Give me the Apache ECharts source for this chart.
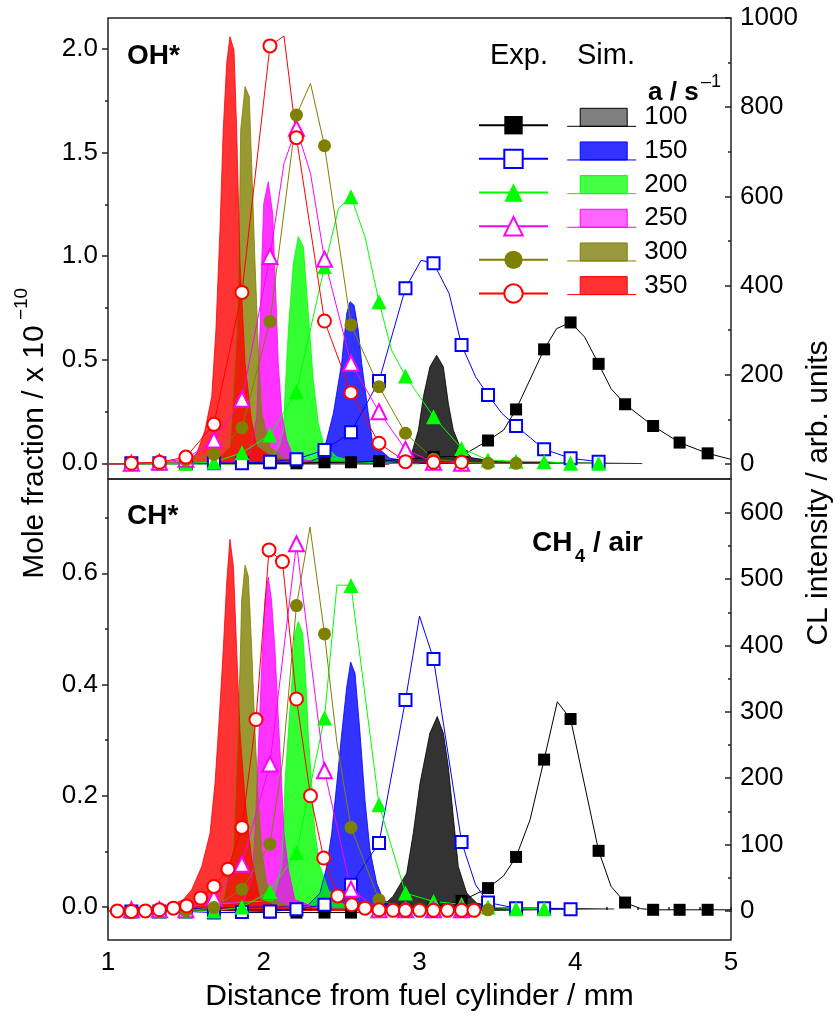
<!DOCTYPE html>
<html>
<head>
<meta charset="utf-8">
<title>OH* / CH* profiles</title>
<script src="https://cdn.jsdelivr.net/npm/echarts@6/dist/echarts.min.js"></script>
<style>
html, body { margin: 0; padding: 0; background: #fff; }
#chart { width: 835px; height: 1019px; }
</style>
</head>
<body>
<div id="chart"></div>
<script>
// strain rates, a / s^-1
var rates = ['100', '150', '200', '250', '300', '350'];

// ---- OH* panel, experiment (mole fraction x 1e-10) : markers + line bends
var ohExp100 = [[1.68,0],[1.86,0],[2.04,0],[2.21,0],[2.39,0.005],[2.56,0.005],[2.74,0.01],[2.91,0.02],[3.09,0.03],[3.27,0.035],[3.44,0.11],[3.62,0.26],[3.80,0.55],[3.97,0.68],[4.15,0.48],[4.32,0.285],[4.50,0.18],[4.67,0.10],[4.85,0.048]];
var ohBend100 = [[3.54,0.16],[3.88,0.65],[4.06,0.61],[4.23,0.36],[5.0,0.019]];
var ohExp150 = [[1.15,0],[1.33,0],[1.50,0],[1.68,0],[1.86,0],[2.04,0.008],[2.21,0.02],[2.39,0.064],[2.56,0.15],[2.74,0.397],[2.91,0.845],[3.09,0.966],[3.27,0.571],[3.44,0.33],[3.62,0.18],[3.80,0.068],[3.97,0.024],[4.15,0.008]];
var ohBend150 = [[3.01,0.98],[3.19,0.82],[3.36,0.418],[3.53,0.24]];
var ohExp200 = [[1.15,0],[1.33,0],[1.50,0],[1.68,0.005],[1.86,0.051],[2.04,0.137],[2.21,0.346],[2.39,0.949],[2.56,1.287],[2.74,0.78],[2.91,0.421],[3.09,0.225],[3.27,0.072],[3.44,0.016],[3.62,0.01],[3.80,0.008],[3.97,0],[4.15,0]];
var ohBend200 = [[2.48,1.23],[2.65,1.094],[2.82,0.547]];
var ohExp250 = [[1.15,0],[1.33,0.005],[1.50,0.02],[1.68,0.112],[1.86,0.309],[2.04,0.998],[2.21,1.617],[2.39,0.985],[2.56,0.483],[2.74,0.249],[2.91,0.067],[3.09,0.005],[3.27,0]];
var ohBend250 = [[2.13,1.448],[2.30,1.40]];
var ohExp300 = [[1.15,0],[1.33,0],[1.50,0.015],[1.68,0.043],[1.86,0.172],[2.04,0.684],[2.21,1.681],[2.39,1.533],[2.56,0.668],[2.74,0.37],[2.91,0.145],[3.09,0.02],[3.27,0.005],[3.44,0],[3.62,0]];
var ohBend300 = [[2.30,1.834]];
var ohExp350 = [[1.15,0],[1.33,0.005],[1.50,0.03],[1.68,0.188],[1.86,0.825],[2.04,2.015],[2.21,1.572],[2.39,0.687],[2.56,0.341],[2.74,0.097],[2.91,0.008],[3.09,0.005],[3.27,0.005]];
var ohBend350 = [[2.13,2.063]];

// ---- OH* panel, simulation (CL intensity)
var ohSim100 = [[1.0,0],[2.80,0],[2.90,8],[2.95,24],[2.993,76],[3.025,151],[3.067,218],[3.11,244],[3.153,218],[3.185,136],[3.217,76],[3.26,39],[3.335,14],[3.506,5],[4.43,1]];
var ohSim150 = [[1.0,0],[2.28,4],[2.372,16],[2.404,54],[2.447,114],[2.50,226],[2.533,338],[2.554,364],[2.58,356],[2.607,300],[2.629,226],[2.671,114],[2.70,46],[2.81,13],[2.97,4],[3.3,0]];
var ohSim200 = [[1.0,0],[1.94,0],[2.04,9],[2.10,40],[2.126,76],[2.136,151],[2.158,300],[2.19,450],[2.222,510],[2.254,487],[2.286,338],[2.318,188],[2.35,91],[2.383,46],[2.469,16],[2.6,4],[3.0,0]];
var ohSim250 = [[1.0,0],[1.80,3],[1.912,24],[1.955,106],[1.976,300],[1.987,450],[2.0,584],[2.029,633],[2.057,562],[2.078,375],[2.093,226],[2.115,114],[2.147,54],[2.19,16],[2.33,4],[2.8,0]];
var ohSim300 = [[1.0,0],[1.676,3],[1.783,39],[1.826,293],[1.843,525],[1.852,749],[1.88,846],[1.907,824],[1.922,674],[1.944,450],[1.965,263],[1.987,114],[2.04,39],[2.126,13],[2.275,3],[2.8,0]];
var ohSim350 = [[1.0,0],[1.50,3],[1.57,24],[1.623,76],[1.666,151],[1.693,300],[1.719,525],[1.74,749],[1.762,898],[1.783,958],[1.809,928],[1.826,749],[1.848,450],[1.88,226],[1.92,100],[1.955,39],[2.06,14],[2.23,3],[2.8,0]];

// ---- CH* panel, experiment
var chExp100 = [[1.68,-0.01],[1.86,-0.01],[2.04,-0.01],[2.21,-0.01],[2.39,-0.01],[2.56,-0.01],[2.74,-0.008],[2.91,-0.005],[3.09,0],[3.27,0.011],[3.44,0.034],[3.62,0.09],[3.80,0.265],[3.97,0.338],[4.15,0.101],[4.32,0.008],[4.50,-0.005],[4.67,-0.005],[4.85,-0.005]];
var chBend100 = [[3.54,0.056],[3.71,0.157],[3.885,0.369],[4.23,0.037],[4.42,-0.003],[5.0,-0.005]];
var chExp150 = [[1.15,-0.008],[1.33,-0.008],[1.50,-0.008],[1.68,-0.01],[1.86,-0.009],[2.04,-0.008],[2.21,-0.004],[2.39,0.004],[2.56,0.04],[2.74,0.115],[2.91,0.372],[3.09,0.446],[3.27,0.117],[3.44,0.008],[3.62,-0.002],[3.80,-0.002],[3.97,-0.004]];
var chBend150 = [[3.00,0.523],[3.36,0.04]];
var chExp200 = [[1.15,-0.007],[1.33,-0.007],[1.50,-0.007],[1.68,-0.007],[1.86,0],[2.04,0.028],[2.21,0.098],[2.39,0.34],[2.56,0.578],[2.74,0.184],[2.91,0.025],[3.09,0.01],[3.27,0.005],[3.44,0],[3.62,-0.003],[3.80,-0.003]];
var chBend200 = [[2.47,0.579]];
var chExp250 = [[1.15,-0.005],[1.33,-0.005],[1.50,-0.005],[1.68,0.016],[1.86,0.077],[2.04,0.257],[2.21,0.653],[2.39,0.245],[2.56,0.032],[2.74,-0.005],[2.91,-0.005],[3.09,-0.005],[3.27,-0.005]];
var chBend250 = [];
var chExp300 = [[1.50,-0.007],[1.68,-0.001],[1.86,0.032],[2.04,0.113],[2.21,0.542],[2.39,0.491],[2.56,0.143],[2.74,0.013],[2.91,-0.003],[3.09,-0.005],[3.27,-0.005],[3.44,-0.005]];
var chBend300 = [[2.12,0.26],[2.297,0.683],[2.47,0.295]];
var chExp350 = [[1.06,-0.007],[1.15,-0.008],[1.24,-0.007],[1.33,-0.005],[1.42,-0.002],[1.505,0.002],[1.595,0.016],[1.68,0.037],[1.77,0.068],[1.86,0.143],[1.95,0.337],[2.034,0.642],[2.12,0.621],[2.21,0.374],[2.30,0.2],[2.385,0.088],[2.475,0.02],[2.565,0.004],[2.65,-0.002],[2.74,-0.005],[2.83,-0.006],[2.91,-0.006],[3.00,-0.006],[3.09,-0.006],[3.18,-0.006],[3.27,-0.006],[3.35,-0.006]];
var chBend350 = [];

// ---- CH* panel, simulation
var chSim100 = [[1.0,0],[2.70,3],[2.77,9],[2.83,22],[2.918,57],[2.96,117],[3.003,192],[3.067,268],[3.114,293],[3.153,268],[3.185,217],[3.217,142],[3.249,67],[3.303,27],[3.367,12],[3.5,5],[4.25,3]];
var chSim150 = [[1.0,0],[2.28,8],[2.361,27],[2.404,67],[2.436,117],[2.469,192],[2.501,268],[2.533,338],[2.558,375],[2.586,358],[2.618,268],[2.65,167],[2.682,92],[2.725,42],[2.767,17],[2.85,5],[3.3,0]];
var chSim200 = [[1.0,0],[2.06,16],[2.115,67],[2.126,117],[2.136,192],[2.158,268],[2.18,343],[2.2,418],[2.222,436],[2.25,418],[2.271,343],[2.286,268],[2.307,192],[2.329,117],[2.361,67],[2.414,32],[2.49,12],[2.6,4],[3.0,0]];
var chSim250 = [[1.0,0],[1.87,14],[1.923,47],[1.945,122],[1.965,243],[1.987,368],[2.008,468],[2.029,503],[2.05,468],[2.072,393],[2.093,293],[2.115,192],[2.13,117],[2.16,60],[2.2,17],[2.35,4],[2.8,0]];
var chSim300 = [[1.0,0],[1.74,15],[1.805,97],[1.83,250],[1.848,368],[1.858,468],[1.88,521],[1.901,504],[1.923,393],[1.944,268],[1.965,167],[1.987,92],[2.019,42],[2.08,15],[2.19,5],[2.8,0]];
var chSim350 = [[1.0,0],[1.377,6],[1.483,17],[1.537,32],[1.602,67],[1.655,117],[1.687,192],[1.715,293],[1.74,393],[1.762,494],[1.783,560],[1.805,519],[1.826,393],[1.848,268],[1.88,167],[1.923,77],[1.976,17],[2.1,6],[2.8,0]];

// ---- tick values
var ohTicks = [0, 0.5, 1, 1.5, 2];
var ohMinor = [0.25, 0.75, 1.25, 1.75];
var ohClTicks = [0, 200, 400, 600, 800, 1000];
var ohClMinor = [100, 300, 500, 700, 900];
var chTicks = [0, 0.2, 0.4, 0.6];
var chMinor = [0.1, 0.3, 0.5, 0.7];
var chClTicks = [0, 100, 200, 300, 400, 500, 600];
var chClMinor = [50, 150, 250, 350, 450, 550];

// styles
var colors = ['#000000', '#0000ff', '#00ff00', '#ff00ff', '#808000', '#ff0000'];
var symbols = ['rect', 'emptyRect', 'triangle', 'emptyTriangle', 'circle', 'emptyCircle'];
var symbolSizes = [12, 12, 15, 15, 13, 13];
var legendFills = ['#808080', '#3333ff', '#44ff44', '#ff66ff', '#999940', '#ff3333'];
var FONT = '"Liberation Sans", Arial, Helvetica, sans-serif';
var INK = '#222';

var ohExp = [ohExp100, ohExp150, ohExp200, ohExp250, ohExp300, ohExp350];
var ohBend = [ohBend100, ohBend150, ohBend200, ohBend250, ohBend300, ohBend350];
var ohSim = [ohSim100, ohSim150, ohSim200, ohSim250, ohSim300, ohSim350];
var chExp = [chExp100, chExp150, chExp200, chExp250, chExp300, chExp350];
var chBend = [chBend100, chBend150, chBend200, chBend250, chBend300, chBend350];
var chSim = [chSim100, chSim150, chSim200, chSim250, chSim300, chSim350];

function expData(markers, bends) {
  var pts = markers.map(function(p) { return { value: p }; })
    .concat(bends.map(function(p) { return { value: p, symbol: 'none' }; }));
  pts.sort(function(a, b) { return a.value[0] - b.value[0]; });
  return pts;
}

function simSeries(i, data, xi, yi) {
  return {
    name: 'S' + rates[i], type: 'line', xAxisIndex: xi, yAxisIndex: yi,
    data: data, symbol: 'none', z: 2,
    lineStyle: { color: colors[i], width: 1, opacity: 0.8 },
    itemStyle: { color: colors[i] },
    areaStyle: { color: colors[i], opacity: 0.8 }
  };
}

function expSeries(i, data, xi, yi) {
  var sym = symbols[i];
  var empty = sym.indexOf('empty') === 0;
  return {
    name: 'E' + rates[i], type: 'line', xAxisIndex: xi, yAxisIndex: yi,
    data: data, symbol: sym, showAllSymbol: true, z: 3,
    symbolSize: symbolSizes[i],
    lineStyle: { color: colors[i], width: 1 },
    itemStyle: empty ? { color: colors[i], borderColor: colors[i], borderWidth: 1.5 } : { color: colors[i] }
  };
}

var series = [];
var i;
for (i = 0; i < 6; i++) series.push(simSeries(i, ohSim[i], 0, 2));
for (i = 0; i < 6; i++) series.push(simSeries(i, chSim[i], 1, 6));
for (i = 0; i < 6; i++) series.push(expSeries(i, expData(ohExp[i], ohBend[i]), 0, 0));
for (i = 0; i < 6; i++) series.push(expSeries(i, expData(chExp[i], chBend[i]), 1, 4));

function yPair(grid, pos, min, max, ticks, minor, inside, fmt) {
  var base = {
    type: 'value', gridIndex: grid, position: pos, min: min, max: max,
    axisLine: { show: false }, splitLine: { show: false }
  };
  var major = Object.assign({}, base, {
    axisTick: { show: true, inside: inside, length: 6, customValues: ticks, lineStyle: { color: INK, width: 1.5 } },
    axisLabel: { customValues: ticks, formatter: fmt, margin: pos === 'left' ? 10 : 9, fontSize: 26, color: '#000', fontFamily: FONT }
  });
  var small = Object.assign({}, base, {
    axisTick: { show: true, inside: inside, length: 3, customValues: minor, lineStyle: { color: INK, width: 1.5 } },
    axisLabel: { show: false }
  });
  return [major, small];
}

var oneDec = function(v) { return v.toFixed(1); };
var intFmt = function(v) { return String(Math.round(v)); };

var yAxes = [].concat(
  yPair(0, 'left', -0.0758, 2.1497, ohTicks, ohMinor, false, oneDec),
  yPair(0, 'right', -33.6, 1000, ohClTicks, ohClMinor, true, intFmt),
  yPair(1, 'left', -0.0593, 0.7695, chTicks, chMinor, false, oneDec),
  yPair(1, 'right', -43.7, 650.8, chClTicks, chClMinor, true, intFmt)
);

var tickStyle = { color: INK, width: 1.5 };
var xAxes = [
  { type: 'value', gridIndex: 0, position: 'bottom', min: 1, max: 5, interval: 1,
    axisLine: { show: false }, axisTick: { show: false }, axisLabel: { show: false }, splitLine: { show: false } },
  { type: 'value', gridIndex: 1, position: 'bottom', min: 1, max: 5, interval: 1,
    axisLine: { show: false }, splitLine: { show: false },
    axisTick: { inside: false, length: 5, lineStyle: tickStyle },
    minorTick: { show: true, splitNumber: 5, length: 3, lineStyle: tickStyle },
    axisLabel: { fontSize: 26, margin: 10, color: '#000', fontFamily: FONT },
    name: 'Distance from fuel cylinder / mm', nameLocation: 'middle', nameGap: 42,
    nameTextStyle: { fontSize: 30, color: '#000', fontFamily: FONT } },
  { type: 'value', gridIndex: 1, position: 'top', min: 1, max: 5, interval: 1,
    axisLine: { show: false }, splitLine: { show: false },
    axisTick: { inside: true, length: 5, lineStyle: tickStyle },
    minorTick: { show: true, splitNumber: 5, length: 3, lineStyle: tickStyle },
    axisLabel: { show: false } }
];

var simIcon = 'path://M13,0H60V18H13Z M0,18H69';

function txt(x, y, text, font, extra) {
  var el = { type: 'text', x: x, y: y, silent: true,
    style: { text: text, font: font, fill: '#000', align: 'left', verticalAlign: 'middle' } };
  return Object.assign(el, extra || {});
}

var option = {
  animation: false,
  backgroundColor: '#fff',
  textStyle: { fontFamily: FONT },
  grid: [
    { left: 108, right: 104, top: 18, height: 461, show: true, borderColor: INK, borderWidth: 1.5, outerBoundsMode: 'none' },
    { left: 108, right: 104, top: 479, height: 461, show: true, borderColor: INK, borderWidth: 1.5, outerBoundsMode: 'none' }
  ],
  xAxis: xAxes,
  yAxis: yAxes,
  legend: [
    { data: rates.map(function(r) { return 'E' + r; }), orient: 'vertical', left: 478, top: 113.7,
      padding: 0, itemWidth: 69, itemHeight: 23, itemGap: 10.66, selectedMode: false,
      formatter: function() { return ' '; }, textStyle: { fontSize: 10, lineHeight: 23 } },
    { data: rates.map(function(r, k) {
        return { name: 'S' + r, icon: simIcon,
          itemStyle: { color: legendFills[k], borderColor: colors[k], borderWidth: 1 } };
      }),
      orient: 'vertical', left: 566.7, top: 94.3, padding: 0, itemWidth: 69, itemHeight: 18,
      itemGap: -12.34, selectedMode: false,
      formatter: function(n) { return n.slice(1); },
      textStyle: { fontSize: 26, lineHeight: 26, color: '#000', fontFamily: FONT, padding: [20, 0, 0, 3] } }
  ],
  graphic: [
    txt(127, 56, 'OH*', 'bold 28px ' + FONT),
    txt(127, 516, 'CH*', 'bold 28px ' + FONT),
    txt(532, 543, 'CH', 'bold 28px ' + FONT),
    txt(575, 557, '4', 'bold 18px ' + FONT),
    txt(593, 543, '/ air', 'bold 28px ' + FONT),
    txt(490, 56, 'Exp.', '29px ' + FONT),
    txt(577, 56, 'Sim.', '29px ' + FONT),
    txt(648, 93, 'a / s', 'bold 26px ' + FONT),
    txt(701, 82, '\u20131', '18px ' + FONT),
    txt(35, 452, 'Mole fraction / x 10', '30px ' + FONT, { rotation: Math.PI / 2 }),
    txt(22, 304, '\u221210', '19px ' + FONT, { rotation: Math.PI / 2 }),
    txt(819, 493, 'CL intensity / arb. units', '30px ' + FONT, { rotation: Math.PI / 2 })
  ],
  series: series
};
// rotated titles are centred on their anchor
option.graphic.slice(9).forEach(function(g) { g.style.align = 'center'; });

var chart = echarts.init(document.getElementById('chart'), null, { renderer: 'canvas' });
chart.setOption(option);
</script>
</body>
</html>
